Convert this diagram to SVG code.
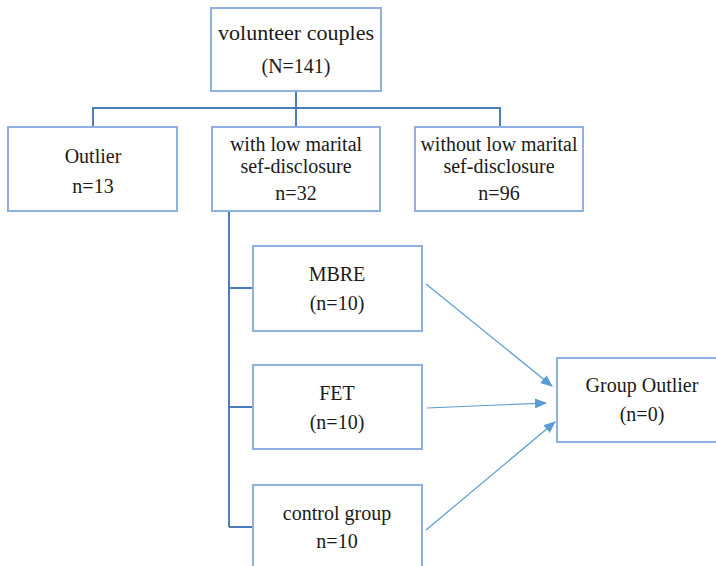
<svg xmlns="http://www.w3.org/2000/svg" width="716" height="566" viewBox="0 0 716 566">
<style>
.box{fill:#fff;stroke:#8fb0e0;stroke-width:2}
.t{font-family:"Liberation Serif","Times New Roman",serif;font-size:20px;fill:#1a1a1a;text-anchor:middle}
.tree{fill:none;stroke:#4a7ebb;stroke-width:2}
.arr{fill:none;stroke:#5b9bd5;stroke-width:1.2}
</style>
<defs>
<marker id="ah" viewBox="0 0 12 10" refX="11" refY="5" markerWidth="12" markerHeight="10" markerUnits="userSpaceOnUse" orient="auto">
<path d="M0,0 L12,5 L0,10 Z" fill="#5b9bd5"/>
</marker>
</defs>
<rect width="716" height="566" fill="#fff"/>
<g id="connectors">
<path class="tree" d="M296,91 V126 M93,127 V108 H500 V127"/>
<path class="tree" d="M229,211 V527 M229,288 H253 M229,407 H253 M229,527 H253"/>
<line class="arr" x1="426" y1="284" x2="552" y2="386" marker-end="url(#ah)"/>
<line class="arr" x1="427" y1="408" x2="546" y2="403" marker-end="url(#ah)"/>
<line class="arr" x1="426" y1="530" x2="555" y2="422" marker-end="url(#ah)"/>
</g>
<g id="volunteer">
<rect class="box" x="211" y="8" width="170" height="83"/>
<text class="t" x="296" y="40" textLength="156" lengthAdjust="spacingAndGlyphs">volunteer couples</text>
<text class="t" x="296" y="73">(N=141)</text>
</g>
<g id="outlier">
<rect class="box" x="8" y="127" width="169" height="84"/>
<text class="t" x="93" y="163">Outlier</text>
<text class="t" x="93" y="193">n=13</text>
</g>
<g id="withlow">
<rect class="box" x="212" y="127" width="168" height="84"/>
<text class="t" x="296" y="151">with low marital</text>
<text class="t" x="296" y="173">sef-disclosure</text>
<text class="t" x="296" y="200">n=32</text>
</g>
<g id="withoutlow">
<rect class="box" x="415" y="127" width="168" height="84"/>
<text class="t" x="499" y="151" textLength="157" lengthAdjust="spacingAndGlyphs">without low marital</text>
<text class="t" x="499" y="173">sef-disclosure</text>
<text class="t" x="499" y="200">n=96</text>
</g>
<g id="mbre">
<rect class="box" x="253" y="246" width="169" height="85"/>
<text class="t" x="337" y="281">MBRE</text>
<text class="t" x="337" y="310">(n=10)</text>
</g>
<g id="fet">
<rect class="box" x="253" y="365" width="169" height="84"/>
<text class="t" x="337" y="400">FET</text>
<text class="t" x="337" y="429">(n=10)</text>
</g>
<g id="control">
<rect class="box" x="253" y="485" width="169" height="100"/>
<text class="t" x="337" y="520">control group</text>
<text class="t" x="337" y="548">n=10</text>
</g>
<g id="groupoutlier">
<rect class="box" x="557" y="358" width="170" height="84"/>
<text class="t" x="642" y="392">Group Outlier</text>
<text class="t" x="642" y="421">(n=0)</text>
</g>
</svg>
